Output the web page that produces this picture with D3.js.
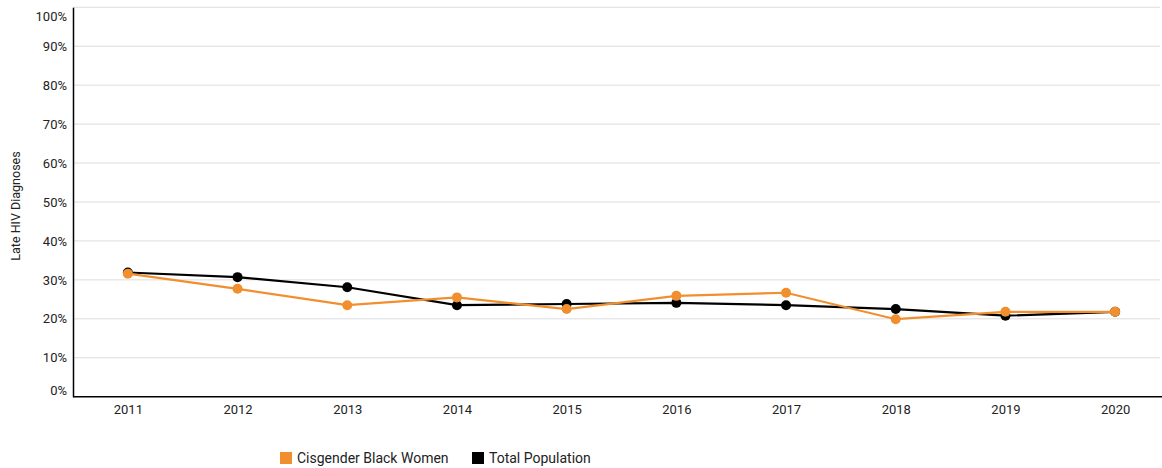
<!DOCTYPE html>
<html>
<head>
<meta charset="utf-8">
<script src="https://cdn.jsdelivr.net/npm/d3@7"></script>
<style>
  body { margin: 0; background: #fff; }
  text { font-family: Roboto, sans-serif; }
</style>
</head>
<body>
<div id="chart"></div>
<script>
// data
var years = ["2011", "2012", "2013", "2014", "2015", "2016", "2017", "2018", "2019", "2020"];
var blackWomen = [31.6, 27.7, 23.5, 25.5, 22.5, 25.9, 26.7, 19.9, 21.8, 21.8];
var totalPop = [31.9, 30.7, 28.1, 23.5, 23.8, 24.1, 23.5, 22.5, 20.8, 21.8];
var yTicks = [0, 10, 20, 30, 40, 50, 60, 70, 80, 90, 100];
var seriesNames = ["Cisgender Black Women", "Total Population"];
var seriesColors = ["#f18f2e", "#000000"];

var width = 1162, height = 468;
var margin = {top: 7.3, right: -8, bottom: 71.3, left: 73};

var svg = d3.select("#chart")
  .append("svg")
    .attr("width", width)
    .attr("height", height);

var x = d3.scalePoint()
  .domain(years)
  .range([margin.left, width - margin.right])
  .padding(0.5);

var y = d3.scaleLinear()
  .domain([0, 100])
  .range([height - margin.bottom, margin.top]);

// gridlines
svg.append("g")
  .selectAll("line")
  .data(yTicks.slice(1))
  .enter()
  .append("line")
    .attr("x1", margin.left)
    .attr("x2", 1160)
    .attr("y1", function(d) { return y(d); })
    .attr("y2", function(d) { return y(d); })
    .attr("stroke", "#dcdcdc")
    .attr("stroke-width", 1);

// y axis
var yAxis = svg.append("g")
  .attr("transform", "translate(" + margin.left + ",0)")
  .call(d3.axisLeft(y).tickValues(yTicks).tickSize(0).tickPadding(6).tickFormat(function(d) { return d + "%"; }));
yAxis.select(".domain").attr("stroke", "#000").attr("stroke-width", 1.5);
yAxis.selectAll("text")
  .attr("font-family", "Roboto, sans-serif")
  .attr("font-size", 13)
  .attr("fill", "#222");
// end labels are kept inside the plot
yAxis.selectAll(".tick").filter(function(d) { return d === 0; }).select("text").attr("dy", "-0.2em");
yAxis.selectAll(".tick").filter(function(d) { return d === 100; }).select("text").attr("dy", "1.05em");

// x axis
var xAxis = svg.append("g")
  .attr("transform", "translate(0," + y(0) + ")")
  .call(d3.axisBottom(x).tickSize(0).tickPadding(8));
xAxis.select(".domain").attr("stroke", "#000").attr("stroke-width", 1.5)
  .attr("d", "M" + margin.left + ",0H" + width);
xAxis.selectAll("text")
  .attr("font-family", "Roboto, sans-serif")
  .attr("font-size", 13)
  .attr("fill", "#222");

// y axis title
svg.append("text")
  .attr("transform", "translate(20," + ((y(0) + y(100)) / 2 + 4) + ") rotate(-90)")
  .attr("text-anchor", "middle")
  .attr("font-family", "Liberation Sans, Arial, sans-serif")
  .attr("font-size", 12.5)
  .attr("fill", "#222")
  .text("Late HIV Diagnoses");

var line = d3.line()
  .x(function(d, i) { return x(years[i]); })
  .y(function(d) { return y(d); });

// draw total first so the orange series sits on top
var drawOrder = [
  {values: totalPop, color: seriesColors[1]},
  {values: blackWomen, color: seriesColors[0]}
];

drawOrder.forEach(function(s) {
  svg.append("path")
    .datum(s.values)
    .attr("fill", "none")
    .attr("stroke", s.color)
    .attr("stroke-width", 2.2)
    .attr("d", line);

  svg.append("g")
    .selectAll("circle")
    .data(s.values)
    .enter()
    .append("circle")
      .attr("cx", function(d, i) { return x(years[i]); })
      .attr("cy", function(d) { return y(d); })
      .attr("r", 5)
      .attr("fill", s.color);
});

// legend
var legendX = [280, 472];
var legend = svg.append("g");
seriesNames.forEach(function(name, i) {
  legend.append("rect")
    .attr("x", legendX[i])
    .attr("y", 452)
    .attr("width", 12)
    .attr("height", 12)
    .attr("fill", seriesColors[i]);
  legend.append("text")
    .attr("x", legendX[i] + 17)
    .attr("y", 463)
    .attr("font-family", "Roboto, sans-serif")
    .attr("font-size", 14)
    .attr("fill", "#222")
    .text(name);
});
</script>
</body>
</html>
